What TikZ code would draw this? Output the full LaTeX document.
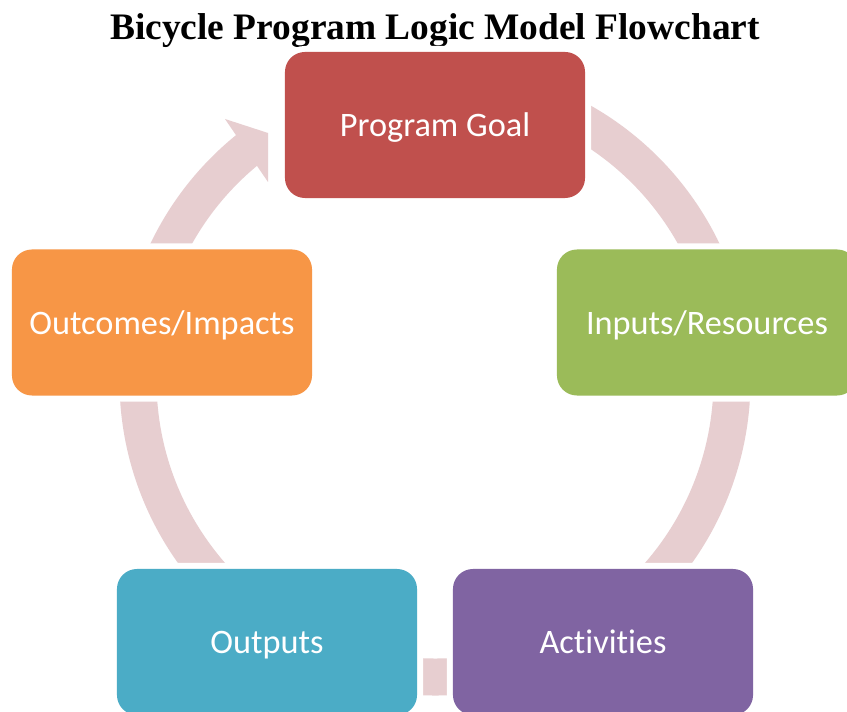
\documentclass[tikz,border=0pt]{standalone}
\usepackage{fontspec}
\setmainfont{Liberation Serif}
\newfontfamily\boxfont[Ligatures=NoCommon]{Carlito}
\usetikzlibrary{calc}

\definecolor{goalred}{HTML}{C0504D}
\definecolor{inputgreen}{HTML}{9BBB59}
\definecolor{activitypurple}{HTML}{8064A2}
\definecolor{outputblue}{HTML}{4BACC6}
\definecolor{outcomeorange}{HTML}{F79646}
\definecolor{bandpink}{RGB}{231,206,208}

\tikzset{
	cyclebox/.style={rectangle, rounded corners=0.5cm, minimum width=7.5cm, minimum height=3.65cm, inner sep=0pt, text height=19pt, text depth=2.6pt, text=white, font=\boxfont\fontsize{24.4}{29}\selectfont, preaction={draw=white, line width=0.3cm}},
	band/.style={draw=bandpink, line width=0.925cm}
}

\begin{document}
\begin{tikzpicture}[x=0.025cm, y=0.025cm]
	\useasboundingbox (0,0) rectangle (847,711);
	\clip (0,0) rectangle (847,711);
	\fill[white] (0,0) rectangle (847,711);
	
	\node[anchor=base, font=\bfseries\fontsize{26.6}{30}\selectfont] (title) at (435,671) {Bicycle Program Logic Model Flowchart};
	
	\coordinate (hub) at (435,331);
	\draw[band] ($(hub)+(128:297)$) arc[start angle=128, end angle=422, radius=297];
	\fill[bandpink] (225,592) -- (268,578) -- (268,529) -- cycle;
	
	\node[cyclebox, fill=goalred] (goal) at (435,586) {Program Goal};
	\node[cyclebox, fill=inputgreen] (inputs) at (707,388.5) {Inputs/Resources};
	\node[cyclebox, fill=activitypurple] (activities) at (603,69) {Activities};
	\node[cyclebox, fill=outputblue] (outputs) at (267,69) {Outputs};
	\node[cyclebox, fill=outcomeorange] (outcomes) at (162,388.5) {Outcomes/Impacts};
\end{tikzpicture}
\end{document}
